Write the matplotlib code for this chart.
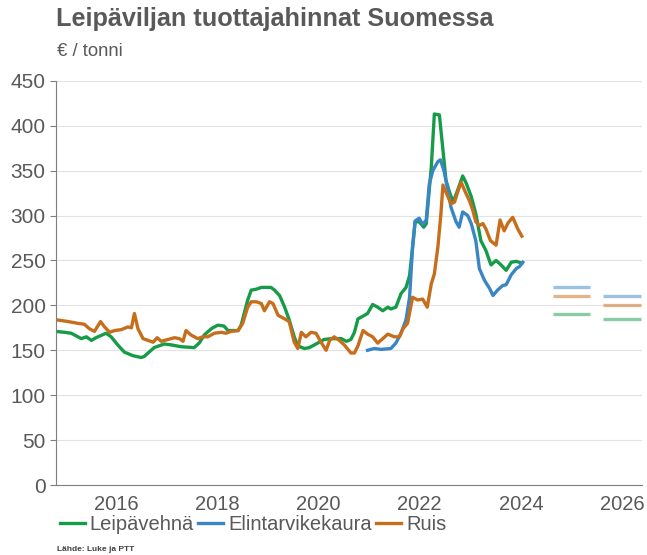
import matplotlib.pyplot as plt

# monthly producer prices, EUR / tonne
wheat_x = [2014.81, 2014.98, 2015.11, 2015.31, 2015.41, 2015.51, 2015.60, 2015.80, 2015.90,
           2016.03, 2016.16, 2016.33, 2016.49, 2016.55, 2016.69, 2016.75, 2016.95, 2017.09,
           2017.28, 2017.54, 2017.64, 2017.74, 2017.88, 2017.91, 2018.01, 2018.13, 2018.21,
           2018.41, 2018.47, 2018.60, 2018.67, 2018.77, 2018.87, 2018.96, 2019.06, 2019.13,
           2019.23, 2019.33, 2019.42, 2019.52, 2019.59, 2019.72, 2019.82, 2019.95, 2020.11,
           2020.25, 2020.45, 2020.55, 2020.64, 2020.71, 2020.78, 2020.88, 2020.97, 2021.07,
           2021.17, 2021.27, 2021.37, 2021.43, 2021.53, 2021.63, 2021.73, 2021.80, 2021.86,
           2021.91, 2021.99, 2022.08, 2022.13, 2022.23, 2022.29, 2022.39, 2022.46, 2022.52,
           2022.59, 2022.66, 2022.75, 2022.85, 2022.92, 2023.02, 2023.11, 2023.21, 2023.31,
           2023.41, 2023.51, 2023.61, 2023.71, 2023.81, 2023.91, 2024.02]
wheat = [171, 170, 169, 163, 165, 161, 164, 169, 165,
         156, 148, 144, 142, 143, 150, 153, 157, 156,
         154, 153, 158, 167, 174, 175, 178, 177, 172,
         172, 178, 206, 217, 218, 220, 220, 220, 217,
         211, 198, 184, 165, 155, 152, 153, 157, 162,
         163, 163, 160, 162, 170, 185, 188, 191, 201,
         198, 194, 198, 196, 198, 213, 220, 233, 265,
         293, 293, 287, 291, 354, 413, 412, 373, 339,
         326, 315, 328, 344, 336, 321, 302, 272, 261,
         245, 250, 245, 239, 248, 249, 247]

oats_x = [2020.97, 2021.10, 2021.24, 2021.43, 2021.53, 2021.63, 2021.73, 2021.80, 2021.86,
          2021.91, 2021.99, 2022.06, 2022.13, 2022.19, 2022.26, 2022.36, 2022.41, 2022.48,
          2022.56, 2022.62, 2022.72, 2022.78, 2022.85, 2022.95, 2023.02, 2023.11, 2023.18,
          2023.28, 2023.38, 2023.45, 2023.54, 2023.64, 2023.71, 2023.81, 2023.91, 2023.97,
          2024.04]
oats = [150, 152, 151, 152, 158, 169, 184, 209, 265,
        294, 297, 290, 295, 335, 350, 360, 362, 350,
        328, 309, 293, 287, 304, 300, 291, 272, 241,
        228, 219, 211, 217, 222, 223, 234, 241, 243,
        248]

rye_x = [2014.81, 2015.05, 2015.24, 2015.37, 2015.47, 2015.57, 2015.69, 2015.77, 2015.87,
         2015.97, 2016.10, 2016.23, 2016.30, 2016.36, 2016.43, 2016.53, 2016.63, 2016.73,
         2016.81, 2016.89, 2017.02, 2017.15, 2017.25, 2017.32, 2017.38, 2017.48, 2017.61,
         2017.71, 2017.81, 2017.94, 2018.08, 2018.17, 2018.27, 2018.41, 2018.50, 2018.60,
         2018.67, 2018.77, 2018.87, 2018.93, 2019.03, 2019.10, 2019.20, 2019.33, 2019.42,
         2019.52, 2019.59, 2019.66, 2019.75, 2019.85, 2019.95, 2020.05, 2020.15, 2020.22,
         2020.31, 2020.41, 2020.51, 2020.64, 2020.71, 2020.78, 2020.88, 2020.97, 2021.07,
         2021.17, 2021.27, 2021.37, 2021.50, 2021.60, 2021.67, 2021.76, 2021.86, 2021.96,
         2022.06, 2022.15, 2022.23, 2022.29, 2022.36, 2022.42, 2022.46, 2022.52, 2022.62,
         2022.69, 2022.75, 2022.82, 2022.92, 2022.98, 2023.05, 2023.11, 2023.18, 2023.25,
         2023.31, 2023.40, 2023.51, 2023.59, 2023.67, 2023.75, 2023.84, 2023.94, 2024.02]
rye = [184, 182, 180, 179, 174, 171, 182, 176, 170,
       172, 173, 176, 175, 191, 174, 163, 161, 159,
       164, 160, 162, 164, 163, 160, 172, 167, 163,
       165, 165, 169, 170, 169, 171, 172, 180, 198,
       204, 204, 202, 194, 204, 202, 189, 185, 182,
       159, 152, 170, 165, 170, 169, 159, 150, 161,
       165, 161, 156, 147, 147, 155, 172, 168, 165,
       158, 163, 168, 165, 165, 174, 180, 209, 206,
       207, 198, 224, 235, 265, 302, 334, 326, 313,
       315, 326, 337, 324, 317, 306, 293, 289, 291,
       285, 272, 267, 295, 283, 292, 298, 285, 277]

# forecasts
fc_years = [2025, 2026]
fc_wheat = [190, 185]
fc_oats = [220, 210]
fc_rye = [210, 200]

green = "#169b48"
blue = "#3a86c4"
orange = "#c66e1c"
grey = "#595959"

plt.rcParams["font.family"] = ["Liberation Sans", "DejaVu Sans"]

fig = plt.figure(figsize=(6.47, 5.55), dpi=100)
ax = fig.add_axes([0.0866, 0.126, 0.906, 0.7285])

ax.plot(wheat_x, wheat, color=green, lw=2.4, label="Leipävehnä")
ax.plot(oats_x, oats, color=blue, lw=2.4, label="Elintarvikekaura")
ax.plot(rye_x, rye, color=orange, lw=2.4, label="Ruis")

for yr, w, o, r in zip(fc_years, fc_wheat, fc_oats, fc_rye):
    ax.hlines([o, r, w], yr - 0.37, yr + 0.37, colors=[blue, orange, green],
              lw=2.4, alpha=0.5)

ax.set_xlim(2014.81, 2026.4)
ax.set_ylim(0, 450)
ax.set_yticks(range(0, 451, 50))
ax.set_xticks([2016, 2018, 2020, 2022, 2024, 2026])
ax.tick_params(axis="y", labelsize=15, colors=grey, length=4, color="#7f7f7f")
ax.tick_params(axis="x", labelsize=14.5, colors=grey, length=0, pad=7)
ax.grid(axis="y", color="#e3e3e3", lw=0.8)
ax.set_axisbelow(True)
for s in ["top", "right"]:
    ax.spines[s].set_visible(False)
ax.spines["left"].set_color("#7f7f7f")
ax.spines["bottom"].set_color("#7f7f7f")

fig.text(0.087, 0.966, "Leipäviljan tuottajahinnat Suomessa", fontsize=18.2,
         fontweight="bold", color=grey, va="center")
fig.text(0.088, 0.908, "€ / tonni", fontsize=13.3, color=grey, va="center")
fig.text(0.088, 0.004, "Lähde: Luke ja PTT", fontsize=6, fontweight="bold",
         color="#404040", va="bottom")

fig.legend(loc="center left", bbox_to_anchor=(0.092, 0.055), ncol=3, frameon=False,
           fontsize=14.5, labelcolor=grey, handlelength=1.25, handletextpad=0.25,
           columnspacing=0.2, borderaxespad=0, borderpad=0)

fig.savefig("out.png", dpi=100)
